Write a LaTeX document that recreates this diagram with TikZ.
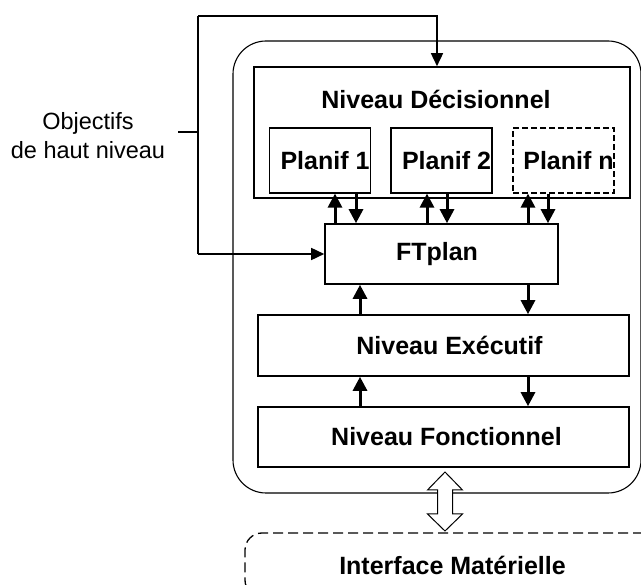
\documentclass[tikz,border=0pt]{standalone}
\usepackage{fontspec}
\setmainfont{Liberation Sans}
\usetikzlibrary{arrows.meta}
\begin{document}
\begin{tikzpicture}[x=1pt,y=-1pt,
  bfont/.style={font=\fontsize{25}{30}\selectfont\bfseries},
  box/.style={draw, line width=1.6pt, inner sep=0pt, bfont},
  subbox/.style={draw, line width=1.2pt, inner sep=0pt, bfont, minimum width=101pt, minimum height=65pt},
  txt/.style={inner sep=0pt, bfont},
  bigarr/.style={line width=3pt, -{Triangle[width=14pt,length=14pt]}},
  fb/.style={line width=1.6pt},
  fbarr/.style={line width=1.6pt, -{Triangle[width=12pt,length=13pt]}}
]
\useasboundingbox (0,0) rectangle (641,585);

% outer system box
\node[draw, line width=1.1pt, rounded corners=33pt, minimum width=408pt, minimum height=452pt, inner sep=0pt] (sys) at (437,267) {};

% hardware interface
\node[draw, dashed, dash pattern=on 10pt off 5pt, line width=1.3pt, rounded corners=17pt, minimum width=415pt, minimum height=64pt, inner sep=0pt, bfont] (hw) at (452.5,565) {Interface Matérielle};

% decisional level
\node[box, minimum width=376pt, minimum height=131pt] (dec) at (442,132.5) {};
\node[txt] (dectext) at (436,99) {Niveau Décisionnel};
\node[subbox] (p1) at (320,160.5) {\hspace*{10pt}Planif 1};
\node[subbox] (p2) at (441.5,160.5) {\hspace*{10pt}Planif 2};
\node[subbox, dashed, dash pattern=on 6pt off 3pt] (pn) at (563.5,160.5) {\hspace*{10pt}Planif n};

% FTplan
\node[box, minimum width=233pt, minimum height=60pt] (ft) at (441.5,254) {FTplan\hspace*{9pt}};

% executive / functional
\node[box, minimum width=371pt, minimum height=61pt] (exe) at (443.5,345.5) {\hspace*{12pt}Niveau Exécutif};
\node[box, minimum width=371pt, minimum height=60pt] (fon) at (443.5,437) {\hspace*{6pt}Niveau Fonctionnel};

% arrows between planners and FTplan
\draw[bigarr] (ft.north -| 335,0) -- (p1.south -| 335,0);
\draw[bigarr] (p1.south -| 356,0) -- (ft.north -| 356,0);
\draw[bigarr] (ft.north -| 427,0) -- (p2.south -| 427,0);
\draw[bigarr] (p2.south -| 447,0) -- (ft.north -| 447,0);
\draw[bigarr] (ft.north -| 528,0) -- (pn.south -| 528,0);
\draw[bigarr] (pn.south -| 548,0) -- (ft.north -| 548,0);

% FTplan <-> executive
\draw[bigarr] (exe.north -| 360,0) -- (ft.south -| 360,0);
\draw[bigarr] (ft.south -| 528,0) -- (exe.north -| 528,0);
% executive <-> functional
\draw[bigarr] (fon.north -| 360,0) -- (exe.south -| 360,0);
\draw[bigarr] (exe.south -| 528,0) -- (fon.north -| 528,0);

% objectives
\node[inner sep=0pt, align=center, font=\fontsize{23.5}{29}\selectfont] (obj) at (88,135.5) {Objectifs\\de haut niveau};
\coordinate (objend) at (178,132);
\coordinate (jobj) at (198,132);
\coordinate (jtop) at (198,16);
\coordinate (jbot) at (198,254);
\coordinate (tr) at (437,16);
\draw[fb] (objend) -- (jobj);
\draw[fb] (jtop) -- (jbot);
\draw[fbarr] (jtop) -- (tr) -- (tr |- dec.north);
\draw[fbarr] (jbot) -- (ft.west);

% hollow double arrow
\draw[line width=1pt, fill=white] (445,472) -- (462.5,490) -- (452.5,490) -- (452.5,514) -- (462.5,514) -- (445,531) -- (427.5,514) -- (437.5,514) -- (437.5,490) -- (427.5,490) -- cycle;
\end{tikzpicture}
\end{document}
